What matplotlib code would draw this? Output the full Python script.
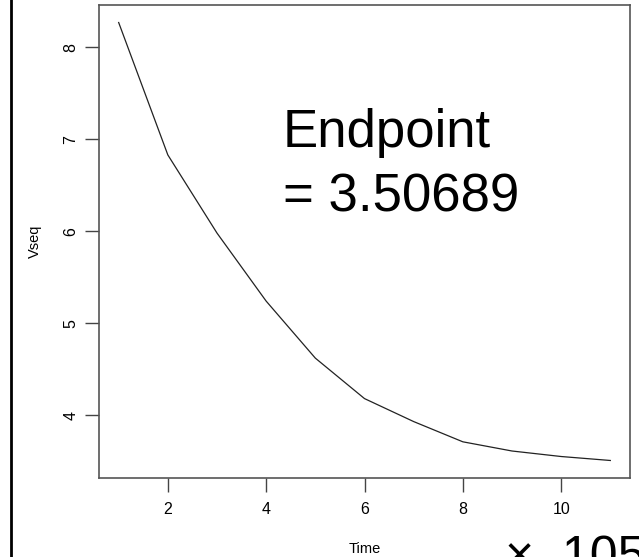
import matplotlib
matplotlib.use("Agg")
import matplotlib.pyplot as plt
from matplotlib.lines import Line2D

plt.rcParams['font.family'] = ['Liberation Sans', 'DejaVu Sans']

# Decay sequence over time steps
time = [1, 2, 3, 4, 5, 6, 7, 8, 9, 10, 11]
vseq = [8.27, 6.83, 5.98, 5.24, 4.62, 4.18, 3.93, 3.71, 3.61, 3.55, 3.50689]
x_ticks = [2, 4, 6, 8, 10]
y_ticks = [4, 5, 6, 7, 8]
scale_label = "\u00d7  105"

W, H = 639, 557
fig = plt.figure(figsize=(W / 100, H / 100), dpi=100)
ax = fig.add_axes([99 / W, 1 - 478 / H, (630 - 99) / W, (478 - 5) / H])

ax.plot(time, vseq, color='#222222', lw=0.9)

# R-style 4% padding of the data range
xr = max(time) - min(time)
yr = max(vseq) - min(vseq)
ax.set_xlim(min(time) - 0.04 * xr, max(time) + 0.04 * xr)
ax.set_ylim(min(vseq) - 0.04 * yr, max(vseq) + 0.04 * yr)

ax.set_xticks(x_ticks)
ax.set_yticks(y_ticks)
ax.tick_params(length=10, width=1, color='#444444', labelsize=11.5)
ax.tick_params(axis='x', pad=7)
ax.tick_params(axis='y', pad=5)
for lbl in ax.get_yticklabels():
    lbl.set_rotation(90)
    lbl.set_va('center')
for s in ax.spines.values():
    s.set_color('#555555')
    s.set_linewidth(1.2)

ax.set_xlabel("Time", fontsize=10.5, labelpad=18)
ax.set_ylabel("Vseq", fontsize=10.5, labelpad=15.5)

# annotation in the upper right of the panel
fig.text(283 / W, 1 - 147 / H, "Endpoint", fontsize=38, ha='left', va='baseline')
fig.text(283 / W, 1 - 211 / H, "= 3.50689", fontsize=38, ha='left', va='baseline')

# multiplier text at the lower edge
fig.text(505 / W, 1 - 571 / H, scale_label, fontsize=36, ha='left', va='baseline')

# vertical rule along the left edge
fig.add_artist(Line2D([11 / W, 11 / W], [0, 1], transform=fig.transFigure,
                      color='black', lw=2))

fig.savefig("out.png", dpi=100)
